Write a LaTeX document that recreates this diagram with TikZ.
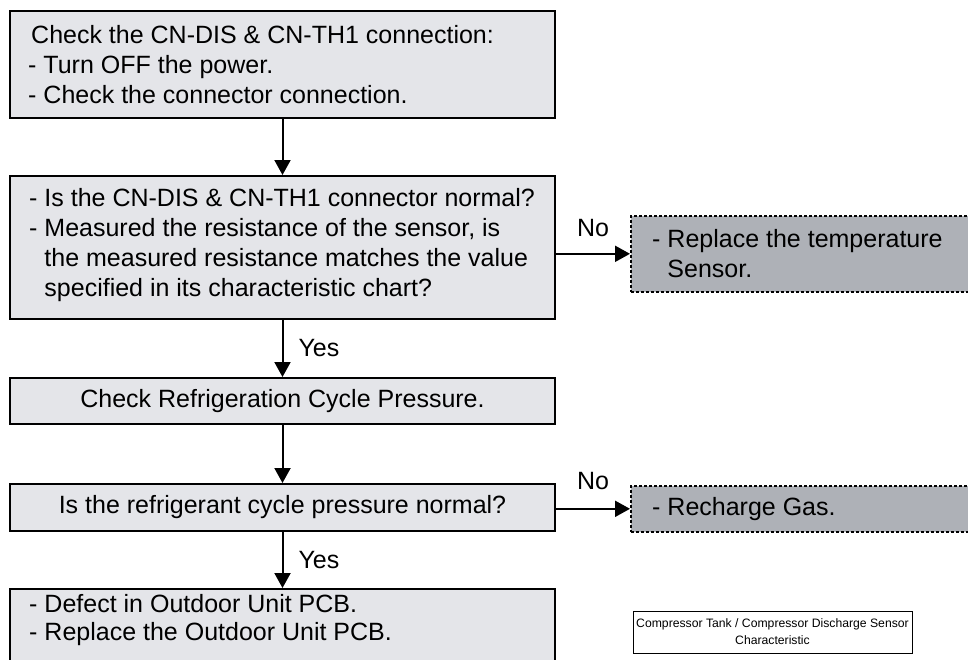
\documentclass[tikz,border=0pt]{standalone}
\usepackage{fontspec}
\setmainfont{Liberation Sans}
\usetikzlibrary{arrows.meta,calc}
\definecolor{boxfill}{RGB}{228,229,233}
\definecolor{darkfill}{RGB}{174,177,183}
\tikzset{
  txt/.style={font=\fontsize{25}{30}\selectfont, text=black, inner sep=0pt},
  box/.style={draw=black, line width=2pt, fill=boxfill, inner sep=0pt, anchor=north west},
  cbox/.style={box, txt},
  dbox/.style={draw=black, line width=1.6pt, dash pattern=on 3pt off 2pt, fill=darkfill, inner sep=0pt, anchor=north west},
  arr/.style={line width=2pt, -{Triangle[length=15pt,width=16pt]}},
  yeslbl/.style={txt, midway, anchor=west, xshift=15pt},
  nolbl/.style={txt, midway, yshift=26pt},
  chart/.style={draw=black, line width=0.9pt, fill=white, align=center, inner sep=0pt,
    font=\fontsize{12.2}{17}\selectfont, minimum width=279pt, minimum height=42pt}
}
\begin{document}
\begin{tikzpicture}[x=1pt,y=-1pt]
\clip (0,0) rectangle (968,659);
\fill[white] (0,0) rectangle (968,659);

% main boxes
\node[box, minimum width=545pt, minimum height=107pt] (b1) at (9,10) {};
\node[txt, anchor=west, align=left] (t1) at ([xshift=19pt]b1.west)
  {\hspace*{3pt}Check the CN-DIS \& CN-TH1 connection:\\- Turn OFF the power.\\- Check the connector connection.};

\node[box, minimum width=545pt, minimum height=143pt] (b2) at (9,175) {};
\node[txt, anchor=west, align=left] (t2) at ([xshift=20pt,yshift=2pt]b2.west)
  {- Is the CN-DIS \& CN-TH1 connector normal?\\- Measured the resistance of the sensor, is\\\phantom{- }the measured resistance matches the value\\\phantom{- }specified in its characteristic chart?};

\node[cbox, minimum width=545pt, minimum height=46pt] (b3) at (9,377) {Check Refrigeration Cycle Pressure.};

\node[cbox, minimum width=545pt, minimum height=47pt] (b4) at (9,483) {Is the refrigerant cycle pressure normal?};

\node[box, minimum width=545pt, minimum height=100pt] (b5) at (9,588) {};
\node[txt, anchor=base west] (t5a) at (29,612) {- Defect in Outdoor Unit PCB.};
\node[txt, anchor=base west] (t5b) at (29,640) {- Replace the Outdoor Unit PCB.};

% dashed result boxes
\node[dbox, minimum width=360pt, minimum height=76pt] (d1) at (630,215) {};
\node[txt, anchor=west, align=left] (td1) at ([xshift=22pt]d1.west)
  {- Replace the temperature\\\phantom{- }Sensor.};

\node[dbox, minimum width=360pt, minimum height=46pt] (d2) at (630,485) {};
\node[txt, anchor=west] (td2) at ([xshift=22pt]d2.west) {- Recharge Gas.};

% chart title box
\node[chart] (ch) at (772.5,632) {Compressor Tank / Compressor Discharge Sensor\\Characteristic};

% connectors
\draw[arr] (b1) -- (b2);
\draw[arr] (b2) -- node[yeslbl] {Yes} (b3);
\draw[arr] (b3) -- (b4);
\draw[arr] (b4) -- node[yeslbl] {Yes} (b5);
\draw[arr] (b2.east |- d1.west) -- node[nolbl] {No} (d1.west);
\draw[arr] (b4.east |- d2.west) -- node[nolbl, yshift=2pt] {No} (d2.west);
\end{tikzpicture}
\end{document}
